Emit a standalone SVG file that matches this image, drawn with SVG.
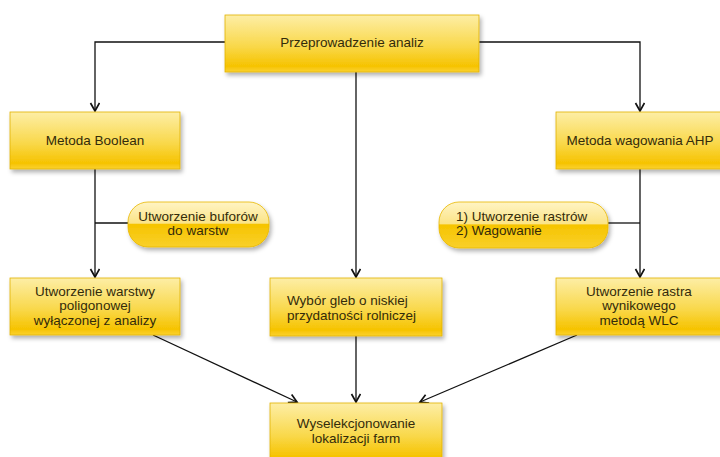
<svg xmlns="http://www.w3.org/2000/svg" width="720" height="457" viewBox="0 0 720 457">
<defs>
<linearGradient id="box" x1="0" y1="0" x2="0" y2="1">
<stop offset="0" stop-color="#fdeea6"/>
<stop offset="0.55" stop-color="#f9d84a"/>
<stop offset="0.9" stop-color="#f6c300"/>
<stop offset="1" stop-color="#fbd230"/>
</linearGradient>
<linearGradient id="pill" x1="0" y1="0" x2="0" y2="1">
<stop offset="0" stop-color="#fff4c4"/>
<stop offset="0.47" stop-color="#fbe487"/>
<stop offset="0.5" stop-color="#f6c400"/>
<stop offset="1" stop-color="#f9d02a"/>
</linearGradient>
<filter id="sh" x="-10%" y="-20%" width="130%" height="150%">
<feDropShadow dx="2" dy="3" stdDeviation="2" flood-color="#000" flood-opacity="0.3"/>
</filter>
<marker id="arr" markerWidth="12" markerHeight="12" refX="9" refY="5" orient="auto" markerUnits="userSpaceOnUse">
<path d="M1,0.5 L9,5 L1,9.5" fill="none" stroke="#111" stroke-width="1.7"/>
</marker>
</defs>
<style>
.b{fill:url(#box);stroke:#e2b200;stroke-width:0.8;filter:url(#sh)}
.p{fill:url(#pill);stroke:#e8b800;stroke-width:0.8;filter:url(#sh)}
.t{font-family:"Liberation Sans",Arial,sans-serif;font-size:13.5px;fill:#332b0a;text-anchor:middle}
.l{text-anchor:start}
.c{fill:none;stroke:#111;stroke-width:1.3}
</style>
<rect width="720" height="457" fill="#fff"/>
<g id="connectors">
<path class="c" d="M225,42 H95 V111" marker-end="url(#arr)"/>
<path class="c" d="M479,42 H640 V111" marker-end="url(#arr)"/>
<path class="c" d="M356,72 V277" marker-end="url(#arr)"/>
<path class="c" d="M95,169 V277" marker-end="url(#arr)"/>
<path class="c" d="M95,223 H128"/>
<path class="c" d="M640,169 V277" marker-end="url(#arr)"/>
<path class="c" d="M608,223 H640"/>
<path class="c" d="M153,335 L297,402" marker-end="url(#arr)"/>
<path class="c" d="M356,336 V402" marker-end="url(#arr)"/>
<path class="c" d="M577,335 L420,402" marker-end="url(#arr)"/>
</g>
<g id="n-analiz">
<rect class="b" x="225" y="15" width="254" height="57"/>
<text class="t" x="352" y="47">Przeprowadzenie analiz</text>
</g>
<g id="n-boolean">
<rect class="b" x="10" y="112" width="170" height="57"/>
<text class="t" x="95" y="145">Metoda Boolean</text>
</g>
<g id="n-ahp">
<rect class="b" x="556" y="112" width="172" height="57"/>
<text class="t" x="640" y="145">Metoda wagowania AHP</text>
</g>
<g id="n-bufory">
<rect class="p" x="128" y="202" width="141" height="45" rx="20"/>
<text class="t" x="198" y="221">Utworzenie buforów</text>
<text class="t" x="198" y="235">do warstw</text>
</g>
<g id="n-rastry">
<rect class="p" x="439" y="202" width="169" height="46" rx="20"/>
<text class="t l" x="456" y="221">1) Utworzenie rastrów</text>
<text class="t l" x="456" y="235">2) Wagowanie</text>
</g>
<g id="n-warstwa">
<rect class="b" x="10" y="278" width="170" height="57"/>
<text class="t" x="95" y="296">Utworzenie warstwy</text>
<text class="t" x="95" y="310">poligonowej</text>
<text class="t" x="95" y="325">wyłączonej z analizy</text>
</g>
<g id="n-gleby">
<rect class="b" x="270" y="278" width="172" height="58"/>
<text class="t l" x="287" y="305">Wybór gleb o niskiej</text>
<text class="t l" x="287" y="320">przydatności rolniczej</text>
</g>
<g id="n-wlc">
<rect class="b" x="556" y="278" width="172" height="57"/>
<text class="t" x="639" y="296">Utworzenie rastra</text>
<text class="t" x="639" y="310">wynikowego</text>
<text class="t" x="639" y="325">metodą WLC</text>
</g>
<g id="n-farmy">
<rect class="b" x="270" y="403" width="172" height="60"/>
<text class="t" x="356" y="428">Wyselekcjonowanie</text>
<text class="t" x="356" y="443">lokalizacji farm</text>
</g>
</svg>
